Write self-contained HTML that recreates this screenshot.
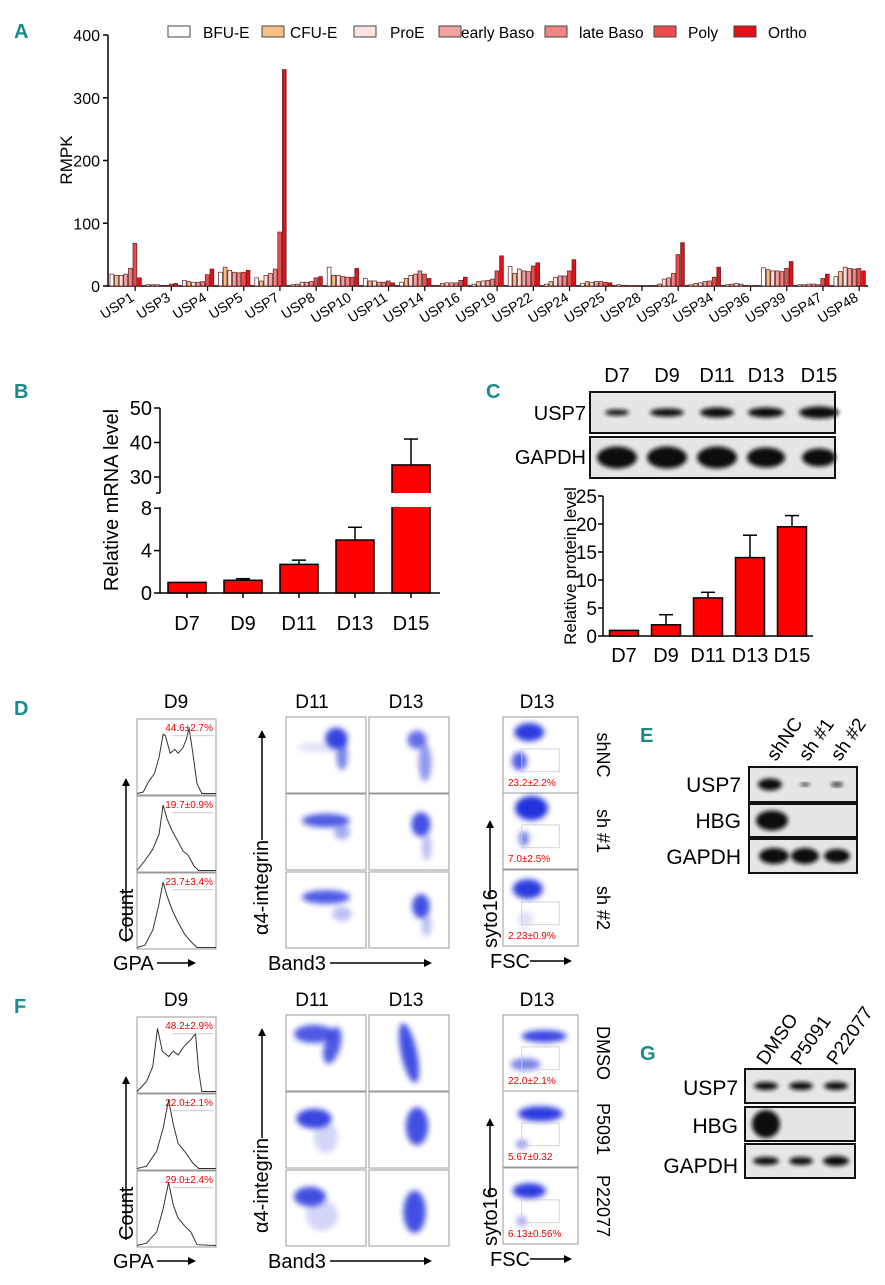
<!DOCTYPE html>
<html><head><meta charset="utf-8"><style>
html,body{margin:0;padding:0;background:#fff}
svg text{font-family:"Liberation Sans",sans-serif}
</style></head><body>
<svg id="fig" width="885" height="1280" viewBox="0 0 885 1280" xmlns="http://www.w3.org/2000/svg">
<defs>
<filter id="blur3" x="-50%" y="-50%" width="200%" height="200%"><feGaussianBlur stdDeviation="3"/></filter>
<filter id="blur2" x="-50%" y="-50%" width="200%" height="200%"><feGaussianBlur stdDeviation="2"/></filter>
</defs>
<g id="A"></g>
<g id="B"></g>
<g id="C"></g>
<g id="D"></g>
<g id="E"></g>
<g id="F"></g>
<g id="G"></g>
</svg>
<script>
// ---------- Panel A data ----------
const genes = ["USP1","USP3","USP4","USP5","USP7","USP8","USP10","USP11","USP14","USP16","USP19","USP22","USP24","USP25","USP28","USP32","USP34","USP36","USP39","USP47","USP48"];
const stages = ["BFU-E","CFU-E","ProE","early Baso","late Baso","Poly","Ortho"];
const rpmk = [
[19,17,17,19,28,68,13],[2,2,2,1,1,3,4],[9,7,6,6,7,18,27],[22,30,25,22,21,22,25],
[13,8,17,20,27,86,345],[2,3,6,6,7,13,15],[30,17,17,15,14,14,28],[12,8,8,6,6,8,5],
[6,12,17,19,24,19,12],[1,4,5,5,5,9,14],[3,7,8,9,11,24,48],[31,20,27,24,23,32,37],
[3,7,14,16,16,24,42],[4,7,6,7,7,6,5],[2,1,1,0,0,0,0],[1,3,11,13,20,50,69],
[2,4,5,7,8,14,30],[2,3,4,3,1,0,1],[29,26,24,24,23,28,39],[2,2,3,3,2,12,19],[15,23,30,28,27,28,24]];
const aTicks = [0,100,200,300,400];
// ---------- Panel B data ----------
const bCats = ["D7","D9","D11","D13","D15"];
const bVals = [1,1.2,2.7,5.0,33.5];
const bErr = [0,0.15,0.4,1.2,7.5];
const bTicksLow = [0,4,8];
const bTicksHigh = [30,40,50];
// ---------- Panel C data ----------
const cCats = ["D7","D9","D11","D13","D15"];
const cVals = [1,2,6.8,14,19.5];
const cErr = [0,1.8,1.0,4.0,2.0];
const cTicks = [0,5,10,15,20,25];

const NS="http://www.w3.org/2000/svg";
function mk(parent,tag,attrs,txt){const e=document.createElementNS(NS,tag);for(const k in attrs)e.setAttribute(k,attrs[k]);if(txt!==undefined)e.textContent=txt;parent.appendChild(e);return e;}

// ---------- Panel A ----------
(function(){
const g=document.getElementById('A');
const fills=["#ffffff","#f6bf86","#fde3df","#f4a3a3","#f08585","#ec4c4c","#e60f16"];
const x0=108,gw=36.2,y0=286,y400=35;
const ys=v=>y0-(v/400)*(y0-y400);
const pl=mk(g,'text',{x:14,y:38,'font-size':20,'font-weight':'bold',fill:'#1a8a8a'},'A');

mk(g,'line',{x1:x0,y1:y400,x2:x0,y2:y0,stroke:'#000','stroke-width':1.5});
mk(g,'line',{x1:x0,y1:y0,x2:x0+gw*genes.length,y2:y0,stroke:'#000','stroke-width':1.5});
aTicks.forEach(t=>{
 mk(g,'line',{x1:x0-5,y1:ys(t),x2:x0,y2:ys(t),stroke:'#000','stroke-width':1.5});
 const tl=mk(g,'text',{x:x0-8,y:ys(t)+6,'font-size':16,'text-anchor':'end'},String(t));
 
});
const yt=mk(g,'text',{x:72,y:160,'font-size':17,'text-anchor':'middle',transform:'rotate(-90 72 160)'},'RMPK');

genes.forEach((gn,i)=>{
 const gx=x0+2+i*gw;
 rpmk[i].forEach((v,j)=>{
  const r=mk(g,'rect',{x:gx+j*4.6,y:ys(v),width:3.8,height:Math.max(0.5,y0-ys(v)),fill:fills[j],stroke:'#5a2020','stroke-width':0.7});
  
  
 });
 const cx=x0+i*gw+gw*0.75;
 mk(g,'line',{x1:cx,y1:y0,x2:cx,y2:y0+5,stroke:'#000','stroke-width':1.2});
 const lb=mk(g,'text',{x:cx,y:y0+14,'font-size':14,'text-anchor':'end',transform:`rotate(-32 ${cx} ${y0+14})`},gn);
 
});
const lx=[168,262,354,439,545,654,734],tx=[203,290,390,461,579,688,768];
stages.forEach((s,j)=>{
 const lg=mk(g,'g',{});
 
 mk(lg,'rect',{x:lx[j],y:26,width:22,height:11,fill:fills[j],stroke:'#444','stroke-width':1});
 mk(lg,'text',{x:tx[j],y:38,'font-size':15.5},s);
});
})();

// ---------- Panel B ----------
(function(){
const g=document.getElementById('B');
const pl=mk(g,'text',{x:14,y:398,'font-size':20,'font-weight':'bold',fill:'#1a8a8a'},'B');

const ax=160;
const yl=v=>593-v*10.6;
const yh=v=>477-(v-30)*3.45;
mk(g,'line',{x1:ax,y1:408,x2:ax,y2:493,stroke:'#000','stroke-width':1.5});
mk(g,'line',{x1:ax,y1:507,x2:ax,y2:593,stroke:'#000','stroke-width':1.5});
mk(g,'line',{x1:ax-4,y1:493,x2:ax,y2:493,stroke:'#000','stroke-width':1.5});
mk(g,'line',{x1:ax,y1:593,x2:440,y2:593,stroke:'#000','stroke-width':1.5});
bTicksHigh.forEach(t=>{mk(g,'line',{x1:ax-6,y1:yh(t),x2:ax,y2:yh(t),stroke:'#000','stroke-width':1.5});
 const l=mk(g,'text',{x:ax-8,y:yh(t)+7,'font-size':20,'text-anchor':'end'},String(t));});
bTicksLow.forEach(t=>{mk(g,'line',{x1:ax-6,y1:yl(t),x2:ax,y2:yl(t),stroke:'#000','stroke-width':1.5});
 const l=mk(g,'text',{x:ax-8,y:yl(t)+7,'font-size':20,'text-anchor':'end'},String(t));});
const yt=mk(g,'text',{x:118,y:500,'font-size':20,'text-anchor':'middle',transform:'rotate(-90 118 500)'},'Relative mRNA level');

bCats.forEach((c,i)=>{
 const cx=187+i*56,w=38;
 let top,r;
 if(bVals[i]<=8){
  top=yl(bVals[i]);
  r=mk(g,'rect',{x:cx-w/2,y:top,width:w,height:593-top,fill:'#f00',stroke:'#000','stroke-width':1.5});
  if(bErr[i]>0){const et=yl(bVals[i]+bErr[i]);mk(g,'line',{x1:cx,y1:top,x2:cx,y2:et,stroke:'#000','stroke-width':1.5});mk(g,'line',{x1:cx-7,y1:et,x2:cx+7,y2:et,stroke:'#000','stroke-width':1.5});}
 }else{
  top=yh(bVals[i]);
  r=mk(g,'rect',{x:cx-w/2,y:top,width:w,height:593-top,fill:'#f00',stroke:'#000','stroke-width':1.5});
  mk(g,'rect',{x:cx-w/2-1,y:493,width:w+2,height:14,fill:'#fff'});
  const et=yh(bVals[i]+bErr[i]);
  mk(g,'line',{x1:cx,y1:top,x2:cx,y2:et,stroke:'#000','stroke-width':1.5});mk(g,'line',{x1:cx-7,y1:et,x2:cx+7,y2:et,stroke:'#000','stroke-width':1.5});
 }
 
 mk(g,'line',{x1:cx,y1:593,x2:cx,y2:598,stroke:'#000','stroke-width':1.5});
 const l=mk(g,'text',{x:cx,y:630,'font-size':20,'text-anchor':'middle'},c);
 
});
})();

function blot(g,x,y,w,h,bands,name){
 const b=mk(g,'g',{});
 mk(b,'rect',{x:x,y:y,width:w,height:h,fill:'#e4e6e8',stroke:'#111','stroke-width':2});
 bands.forEach(bd=>{mk(b,'ellipse',{cx:bd[0],cy:y+h/2,rx:bd[1],ry:bd[2],fill:'#111',filter:'url(#blur2)'});});
}

// ---------- Panel C ----------
(function(){
const g=document.getElementById('C');
const pl=mk(g,'text',{x:486,y:398,'font-size':20,'font-weight':'bold',fill:'#1a8a8a'},'C');

const lanes=[617,667,717,766,819];
["D7","D9","D11","D13","D15"].forEach((c,i)=>{const t=mk(g,'text',{x:lanes[i],y:382,'font-size':20,'text-anchor':'middle'},c);});
const t1=mk(g,'text',{x:586,y:420,'font-size':20,'text-anchor':'end'},'USP7');
const t2=mk(g,'text',{x:586,y:464,'font-size':20,'text-anchor':'end'},'GAPDH');
blot(g,590,392,245,41,[[lanes[0],12,3],[lanes[1],17,4],[lanes[2],17,5],[lanes[3],18,5],[lanes[4],20,6]],'c-usp7-blot');
blot(g,590,437,245,41,[[lanes[0],20,11],[lanes[1],20,11],[lanes[2],20,11],[lanes[3],19,10],[lanes[4],17,9]],'c-gapdh-blot');
const ax=603,y0=636,ys=v=>y0-v*5.6;
mk(g,'line',{x1:ax,y1:ys(25),x2:ax,y2:y0,stroke:'#000','stroke-width':1.5});
mk(g,'line',{x1:ax,y1:y0,x2:813,y2:y0,stroke:'#000','stroke-width':1.5});
cTicks.forEach(t=>{mk(g,'line',{x1:ax-5,y1:ys(t),x2:ax,y2:ys(t),stroke:'#000','stroke-width':1.5});
 const l=mk(g,'text',{x:ax-6,y:ys(t)+7,'font-size':19,'text-anchor':'end'},String(t));});
const yt=mk(g,'text',{x:576,y:566,'font-size':17,'text-anchor':'middle',transform:'rotate(-90 576 566)'},'Relative protein level');

cCats.forEach((c,i)=>{
 const cx=624+i*42,w=29,top=ys(cVals[i]);
 const r=mk(g,'rect',{x:cx-w/2,y:top,width:w,height:y0-top,fill:'#f00',stroke:'#000','stroke-width':1.5});
 
 if(cErr[i]>0){const et=ys(cVals[i]+cErr[i]);mk(g,'line',{x1:cx,y1:top,x2:cx,y2:et,stroke:'#000','stroke-width':1.5});mk(g,'line',{x1:cx-7,y1:et,x2:cx+7,y2:et,stroke:'#000','stroke-width':1.5});}
 const l=mk(g,'text',{x:cx,y:662,'font-size':20,'text-anchor':'middle'},c);
 
});
})();

// ---------- flow helpers ----------
function box(g,x,y,w,h){mk(g,'rect',{x:x,y:y,width:w,height:h,fill:'#fff',stroke:'#999','stroke-width':1});}
function hist(g,x,y,w,h,pts,label){
 const hg=mk(g,'g',{});
 box(hg,x,y,w,h);
 let d='';pts.forEach((p,i)=>{d+=(i?'L':'M')+(x+p[0]*w).toFixed(1)+' '+(y+h-p[1]*h).toFixed(1);});
 mk(hg,'path',{d:d,fill:'none',stroke:'#333','stroke-width':1});
 mk(hg,'line',{x1:x+w*0.45,y1:y+h*0.22,x2:x+w*0.97,y2:y+h*0.22,stroke:'#bbb','stroke-width':0.8});
 mk(hg,'text',{x:x+w-3,y:y+12,'font-size':10,fill:'#e00','text-anchor':'end'},label);
}
function blobs(g,x,y,w,h,list,name){
 const sg=mk(g,'g',{});
 box(sg,x,y,w,h);
 list.forEach(b=>{mk(sg,'ellipse',{cx:x+b[0]*w,cy:y+b[1]*h,rx:b[2]*w,ry:b[3]*h,fill:'#2233dd',opacity:b[4],filter:'url(#blur3)',transform:`rotate(${b[6]||0} ${x+b[0]*w} ${y+b[1]*h})`});});
 return sg;
}
function gateBox(g,x,y,w,h,label){
 mk(g,'rect',{x:x+w*0.25,y:y+h*0.42,width:w*0.5,height:h*0.3,fill:'none',stroke:'#ccc','stroke-width':0.8});
 mk(g,'text',{x:x+5,y:y+h-7,'font-size':10,fill:'#e00'},label);
}
function arrowUp(g,x,y1,y2){mk(g,'line',{x1:x,y1:y1,x2:x,y2:y2+6,stroke:'#000','stroke-width':1.5});mk(g,'path',{d:`M${x-4} ${y2+8}L${x} ${y2}L${x+4} ${y2+8}Z`,fill:'#000'});}
function arrowR(g,x1,x2,y){mk(g,'line',{x1:x1,y1:y,x2:x2-6,y2:y,stroke:'#000','stroke-width':1.5});mk(g,'path',{d:`M${x2-8} ${y-4}L${x2} ${y}L${x2-8} ${y+4}Z`,fill:'#000'});}
function T(g,x,y,s,txt,extra,name){const a=Object.assign({x:x,y:y,'font-size':s},extra||{});const t=mk(g,'text',a,txt);return t;}

function flowPanel(id,oy,letter,hLabels,histShapes,scat,syto,sytoLabels,rowNames){
 const g=document.getElementById(id);
 T(g,14,oy+35,20,letter,{'font-weight':'bold',fill:'#1a8a8a'},'panel-'+letter.toLowerCase()+'-label');
 T(g,176,oy+28,19,'D9',{'text-anchor':'middle'},'histogram-day-title');
 const hy=[oy+39,oy+116,oy+193];
 hy.forEach((y,i)=>hist(g,137,y,79,76,histShapes[i],hLabels[i]));
 arrowUp(g,126,oy+262,oy+98);
 T(g,133,oy+262,20,'Count',{transform:`rotate(-90 133 ${oy+262})`},'count-axis-title');
 T(g,113,oy+290,20,'GPA',{},'gpa-axis-title');arrowR(g,157,196,oy+283);
 T(g,312,oy+28,19,'D11',{'text-anchor':'middle'},'scatter-d11-title');
 T(g,406,oy+28,19,'D13',{'text-anchor':'middle'},'scatter-d13-title');
 const sy=[oy+37,oy+114,oy+192];
 for(let r=0;r<3;r++){blobs(g,286,sy[r],80,76,scat[r][0],'scatter-d11');blobs(g,369,sy[r],80,76,scat[r][1],'scatter-d13');}
 arrowUp(g,262,oy+160,oy+50);
 T(g,268,oy+255,20,'α4-integrin',{transform:`rotate(-90 268 ${oy+255})`},'a4-integrin-axis-title');
 T(g,268,oy+290,20,'Band3',{},'band3-axis-title');arrowR(g,330,432,oy+283);
 T(g,537,oy+28,19,'D13',{'text-anchor':'middle'},'syto-day-title');
 const yy=[oy+37,oy+113,oy+190];
 for(let r=0;r<3;r++){const sg=blobs(g,503,yy[r],75,76,syto[r],'syto16-scatter');gateBox(sg,503,yy[r],75,76,sytoLabels[r]);
  T(g,597,yy[r]+38,18,rowNames[r],{'text-anchor':'middle',transform:`rotate(90 597 ${yy[r]+38})`},'row-label');}
 arrowUp(g,490,oy+218,oy+140);
 T(g,497,oy+268,20,'syto16',{transform:`rotate(-90 497 ${oy+268})`},'syto16-axis-title');
 T(g,490,oy+288,20,'FSC',{},'fsc-axis-title');arrowR(g,530,572,oy+281);
}
const hD=[
 [[0,0.02],[0.08,0.04],[0.15,0.18],[0.22,0.28],[0.28,0.5],[0.33,0.8],[0.36,0.78],[0.42,0.55],[0.48,0.6],[0.52,0.55],[0.58,0.62],[0.62,0.72],[0.66,0.88],[0.7,0.6],[0.76,0.15],[0.82,0.02],[1,0.02]],
 [[0,0.02],[0.1,0.15],[0.2,0.3],[0.28,0.5],[0.33,0.88],[0.38,0.7],[0.44,0.55],[0.52,0.4],[0.58,0.28],[0.65,0.22],[0.72,0.08],[0.78,0.02],[1,0.02]],
 [[0,0.02],[0.1,0.05],[0.2,0.25],[0.27,0.55],[0.33,0.88],[0.38,0.7],[0.45,0.5],[0.52,0.35],[0.6,0.2],[0.68,0.1],[0.76,0.02],[1,0.02]]];
const hF=[
 [[0,0.02],[0.12,0.15],[0.2,0.35],[0.26,0.85],[0.32,0.55],[0.4,0.48],[0.46,0.55],[0.52,0.5],[0.6,0.62],[0.68,0.7],[0.74,0.78],[0.78,0.3],[0.82,0.02],[1,0.02]],
 [[0,0.02],[0.12,0.05],[0.25,0.25],[0.33,0.55],[0.4,0.92],[0.46,0.6],[0.52,0.35],[0.6,0.25],[0.7,0.1],[0.78,0.02],[1,0.02]],
 [[0,0.02],[0.12,0.05],[0.25,0.2],[0.33,0.5],[0.4,0.85],[0.46,0.55],[0.52,0.38],[0.6,0.28],[0.68,0.2],[0.76,0.03],[1,0.02]]];
const scD=[
 [[[0.63,0.28,0.14,0.14,0.9],[0.7,0.5,0.07,0.2,0.6],[0.4,0.4,0.25,0.06,0.15]],[[0.6,0.3,0.12,0.12,0.7],[0.7,0.6,0.08,0.25,0.5]]],
 [[[0.5,0.35,0.3,0.09,0.8],[0.7,0.5,0.1,0.1,0.4]],[[0.65,0.4,0.12,0.16,0.85],[0.72,0.7,0.06,0.18,0.3]]],
 [[[0.5,0.33,0.3,0.09,0.8],[0.7,0.55,0.12,0.1,0.3]],[[0.65,0.45,0.11,0.16,0.85],[0.72,0.7,0.06,0.15,0.3]]]];
const syD=[
 [[0.35,0.2,0.2,0.12,0.95],[0.22,0.58,0.1,0.12,0.8]],
 [[0.38,0.2,0.22,0.16,1],[0.28,0.6,0.07,0.1,0.6]],
 [[0.33,0.25,0.2,0.13,0.95],[0.3,0.65,0.1,0.1,0.15]]];
flowPanel('D',680,'D',['44.6±2.7%','19.7±0.9%','23.7±3.4%'],hD,scD,syD,['23.2±2.2%','7.0±2.5%','2.23±0.9%'],['shNC','sh #1','sh #2']);
const scF=[
 [[[0.35,0.25,0.25,0.12,0.8],[0.58,0.4,0.1,0.25,0.8,0,15]],[[0.5,0.5,0.1,0.4,0.85,0,-12]]],
 [[[0.35,0.35,0.22,0.13,0.9],[0.5,0.6,0.15,0.2,0.2]],[[0.6,0.45,0.14,0.25,0.85]]],
 [[[0.3,0.35,0.2,0.13,0.85],[0.45,0.6,0.2,0.2,0.2]],[[0.57,0.55,0.14,0.28,0.85]]]];
const syF=[
 [[0.55,0.28,0.3,0.08,0.9],[0.3,0.65,0.2,0.08,0.6]],
 [[0.5,0.3,0.3,0.1,0.95],[0.25,0.7,0.08,0.06,0.5]],
 [[0.35,0.3,0.22,0.1,0.95],[0.25,0.7,0.07,0.07,0.4]]];
flowPanel('F',978,'F',['48.2±2.9%','22.0±2.1%','29.0±2.4%'],hF,scF,syF,['22.0±2.1%','5.67±0.32','6.13±0.56%'],['DMSO','P5091','P22077']);

// ---------- Panels E, G ----------
(function(){
const g=document.getElementById('E');
T(g,640,742,20,'E',{'font-weight':'bold',fill:'#1a8a8a'},'panel-e-label');
[['shNC',776],['sh #1',808],['sh #2',840]].forEach(a=>T(g,a[1],762,19,a[0],{transform:`rotate(-55 ${a[1]} 762)`},'lane-label'));
T(g,741,792,21,'USP7',{'text-anchor':'end'},'e-usp7-label');
T(g,741,828,21,'HBG',{'text-anchor':'end'},'e-hbg-label');
T(g,741,864,21,'GAPDH',{'text-anchor':'end'},'e-gapdh-label');
blot(g,749,767,108,35,[[770,12,6],[805,5,1.5],[837,6,2]],'e-usp7-blot');
blot(g,749,804,108,33,[[772,16,10]],'e-hbg-blot');
blot(g,749,839,108,34,[[774,15,8],[805,14,8],[837,13,7]],'e-gapdh-blot');
})();
(function(){
const g=document.getElementById('G');
T(g,640,1060,20,'G',{'font-weight':'bold',fill:'#1a8a8a'},'panel-g-label');
[['DMSO',766],['P5091',800],['P22077',836]].forEach(a=>T(g,a[1],1066,19,a[0],{transform:`rotate(-55 ${a[1]} 1066)`},'lane-label'));
T(g,738,1095,21,'USP7',{'text-anchor':'end'},'g-usp7-label');
T(g,738,1133,21,'HBG',{'text-anchor':'end'},'g-hbg-label');
T(g,738,1173,21,'GAPDH',{'text-anchor':'end'},'g-gapdh-label');
blot(g,745,1069,110,34,[[766,12,4],[801,12,4],[836,12,4]],'g-usp7-blot');
blot(g,745,1107,110,34,[[766,14,14]],'g-hbg-blot');
blot(g,745,1144,110,34,[[766,13,4],[801,12,4],[836,13,5]],'g-gapdh-blot');
})();
</script>
</body></html>
